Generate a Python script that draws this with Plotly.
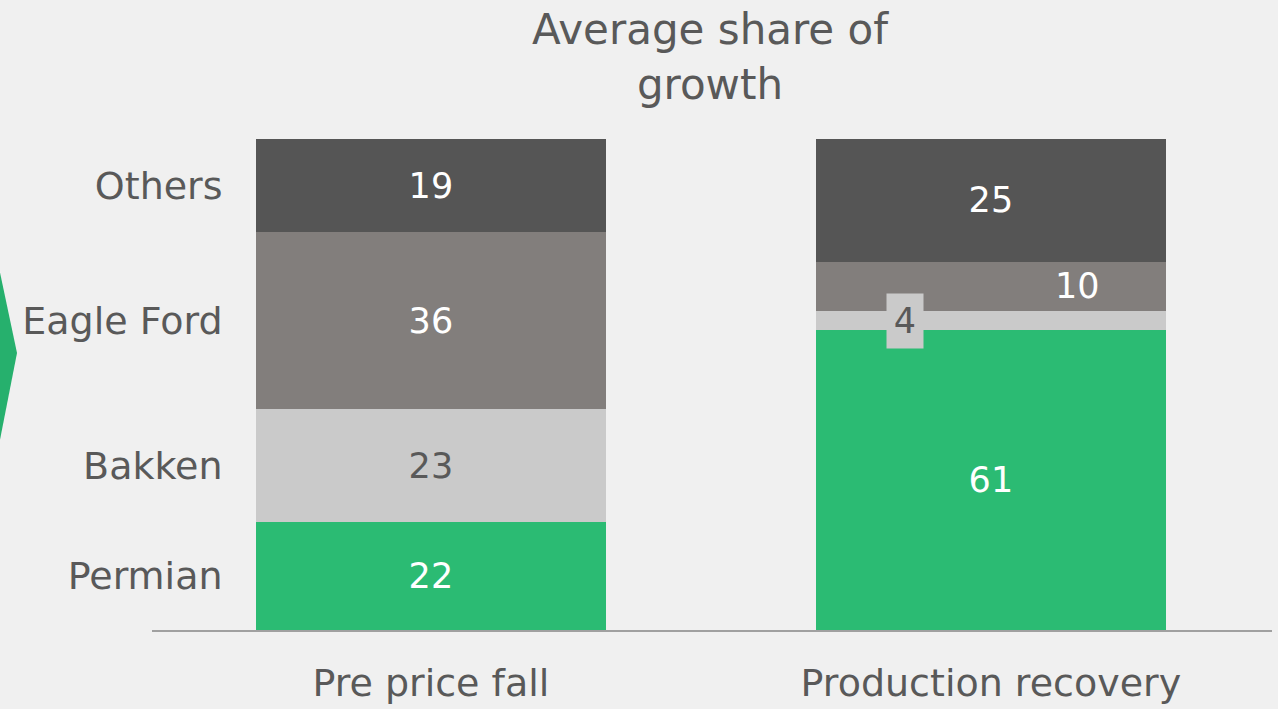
import plotly.graph_objects as go

# Share of growth (%) by basin, for the two periods
categories = ["Pre price fall", "Production recovery"]
regions = ["Permian", "Bakken", "Eagle Ford", "Others"]
permian = [22, 61]
bakken = [23, 4]
eagle_ford = [36, 10]
others = [19, 25]

series = [permian, bakken, eagle_ford, others]
colors = ["#2bbb73", "#cacaca", "#827e7c", "#555555"]
label_colors = ["#ffffff", "#595959", "#ffffff", "#ffffff"]
TEXT = "#595959"
FONT = "DejaVu Sans"

# Thin segments in the second bar get their labels as separate annotations
small = {(1, 1), (2, 1)}

fig = go.Figure()
for i, (name, vals) in enumerate(zip(regions, series)):
    texts = ["" if (i, j) in small else str(v) for j, v in enumerate(vals)]
    fig.add_trace(go.Bar(
        x=categories, y=vals, name=name,
        marker=dict(color=colors[i], line=dict(width=0)),
        width=0.625,
        text=texts, textposition="inside", insidetextanchor="middle",
        textangle=0, constraintext="none",
        textfont=dict(family=FONT, size=35, color=label_colors[i]),
        hoverinfo="skip",
    ))

# Left labels sit at the middle of each segment of the first bar
mids = []
base = 0
for vals in series:
    mids.append(base + vals[0] / 2)
    base += vals[0]

# Mid-heights of the segments in the second bar
base2 = [0]
for vals in series:
    base2.append(base2[-1] + vals[1])

annotations = [
    dict(x=1.155, y=base2[2] + eagle_ford[1] / 2, xref="x", yref="y",
         text=str(eagle_ford[1]), showarrow=False,
         font=dict(family=FONT, size=35, color="#ffffff")),
    dict(x=0.846, y=base2[1] + bakken[1] / 2, xref="x", yref="y",
         text=str(bakken[1]), showarrow=False, bgcolor="#cacaca",
         width=34, height=52,
         font=dict(family=FONT, size=35, color=TEXT)),
]

# Chevron on the left edge
def px_x(px):
    return (px - 152) / 1120

def px_y(py):
    return (630 - py) / 491

chevron = (f"M {px_x(-2)},{px_y(263)} L {px_x(17)},{px_y(353)} "
           f"L {px_x(-2)},{px_y(450)} Z")

fig.update_layout(
    width=1278, height=709,
    barmode="stack",
    showlegend=False,
    paper_bgcolor="#f0f0f0",
    plot_bgcolor="#f0f0f0",
    margin=dict(l=152, r=6, t=139, b=79, autoexpand=False),
    title=dict(
        text="Average share of<br>growth",
        x=710 / 1278, xanchor="center", xref="container",
        y=1 - 44 / 709, yanchor="top", yref="container",
        font=dict(family=FONT, size=42, color=TEXT),
    ),
    xaxis=dict(
        range=[-0.498, 1.502],
        automargin=False,
        showline=True, linecolor="#a0a0a0", linewidth=2,
        showgrid=False, zeroline=False,
        ticks="", ticklabelstandoff=18,
        tickfont=dict(family=FONT, size=38, color=TEXT),
    ),
    yaxis=dict(
        range=[0, 100],
        automargin=False,
        anchor="free", position=0.063,
        showline=False, showgrid=False, zeroline=False,
        ticks="",
        tickvals=mids, ticktext=regions,
        tickfont=dict(family=FONT, size=38, color=TEXT),
    ),
    annotations=annotations,
    shapes=[dict(type="path", path=chevron, xref="paper", yref="paper",
                 fillcolor="#26b06d", line=dict(width=0), layer="above")],
)

fig.write_html("out.html")
